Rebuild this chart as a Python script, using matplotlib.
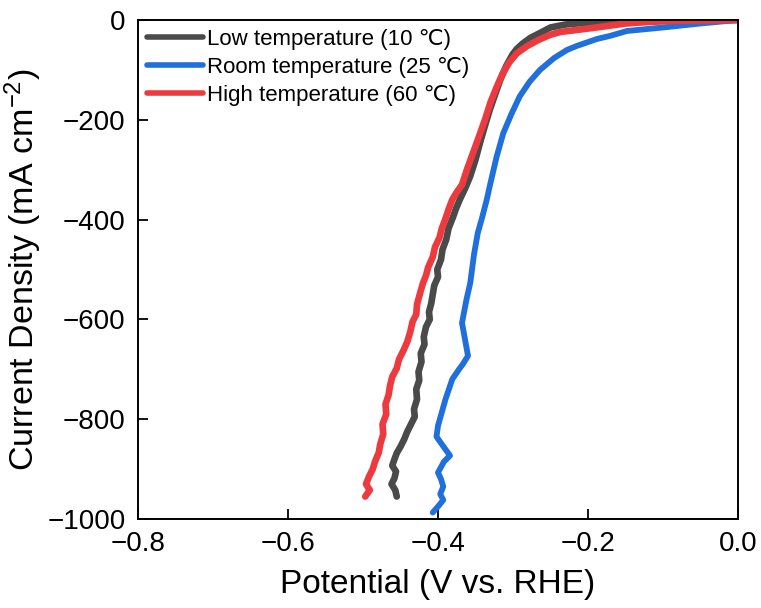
import matplotlib
matplotlib.use("Agg")
import matplotlib.pyplot as plt

plt.rcParams['font.family'] = ['Liberation Sans', 'DejaVu Sans']
plt.rcParams['mathtext.fontset'] = 'custom'
plt.rcParams['mathtext.rm'] = 'Liberation Sans'
plt.rcParams['mathtext.it'] = 'Liberation Sans'

labels = ["Low temperature (10 \u2103)", "Room temperature (25 \u2103)", "High temperature (60 \u2103)"]
colors = ["#4a4a4a", "#1f6fdc", "#ec3a3e"]

V_low = [0.0, -0.05, -0.10, -0.15, -0.20, -0.23, -0.25, -0.264, -0.277, -0.287, -0.295, -0.301,
         -0.309, -0.317, -0.324, -0.331, -0.338, -0.344, -0.350, -0.357, -0.364, -0.371,
         -0.376, -0.380, -0.386, -0.389, -0.394, -0.396, -0.401, -0.400, -0.405, -0.407, -0.409,
         -0.412, -0.411, -0.416, -0.419, -0.418, -0.423, -0.422, -0.426, -0.425, -0.429, -0.428,
         -0.432, -0.431, -0.436, -0.441, -0.445, -0.450, -0.455, -0.458, -0.461, -0.456, -0.458,
         -0.462, -0.457, -0.455]
J_low = [0, -0.5, -1, -2, -5, -9, -15, -26, -36, -47, -58, -70, -92, -120, -150, -180, -215, -246,
         -280, -313, -338, -360, -378, -395, -418, -440, -460, -480, -500, -515, -532, -550, -568,
         -585, -600, -615, -635, -650, -668, -685, -705, -722, -740, -760, -780, -795, -810, -825,
         -840, -855, -868, -880, -893, -905, -918, -930, -942, -955]

V_room = [0.0, -0.05, -0.10, -0.148, -0.171, -0.188, -0.215, -0.228, -0.245, -0.264, -0.278, -0.291,
          -0.302, -0.313, -0.322, -0.331, -0.335, -0.341, -0.347, -0.352, -0.357, -0.362, -0.368,
          -0.364, -0.360, -0.367, -0.372, -0.381, -0.390, -0.400, -0.402, -0.395, -0.384, -0.392,
          -0.400, -0.396, -0.393, -0.397, -0.393, -0.400, -0.407]
J_room = [0, -7, -15, -22, -32, -38, -52, -60, -76, -100, -124, -153, -188, -227, -275, -333, -360,
          -395, -427, -470, -527, -560, -607, -640, -673, -690, -700, -720, -760, -813, -835, -850,
          -873, -885, -907, -920, -935, -950, -962, -975, -987]

V_high = [0.0, -0.03, -0.06, -0.09, -0.12, -0.15, -0.184, -0.21, -0.237, -0.251, -0.266, -0.281,
          -0.295, -0.305, -0.314, -0.322, -0.330, -0.337, -0.345, -0.353, -0.361, -0.368, -0.375,
          -0.381, -0.386, -0.390, -0.395, -0.398, -0.404, -0.407, -0.413, -0.416, -0.420, -0.424,
          -0.428, -0.429, -0.434, -0.437, -0.441, -0.446, -0.452, -0.455, -0.461, -0.464, -0.466,
          -0.470, -0.469, -0.474, -0.473, -0.477, -0.479, -0.484, -0.487, -0.492, -0.496, -0.491,
          -0.497]
J_high = [0, -0.5, -1, -2, -4, -7, -14, -19, -24, -30, -40, -52, -67, -85, -108, -135, -165, -198,
          -232, -265, -298, -330, -345, -360, -380, -398, -418, -436, -455, -475, -495, -512, -527,
          -548, -570, -590, -605, -625, -645, -662, -680, -698, -715, -733, -752, -770, -790, -810,
          -830, -850, -867, -885, -900, -915, -930, -942, -955]

x_ticks = [-0.8, -0.6, -0.4, -0.2, 0.0]
x_ticklabels = ["\u22120.8", "\u22120.6", "\u22120.4", "\u22120.2", "0.0"]
y_ticks = [0, -200, -400, -600, -800, -1000]
y_ticklabels = ["0", "\u2212200", "\u2212400", "\u2212600", "\u2212800", "\u22121000"]

fig = plt.figure(figsize=(7.61, 6.08), dpi=100)
ax = fig.add_axes([138/761, 1 - 519/608, 600/761, 499/608])

series = [(V_low, J_low), (V_room, J_room), (V_high, J_high)]
widths = [4.8, 4.2, 4.8]
for (v, j), c, lab, w in zip(series, colors, labels, widths):
    ax.plot(v, j, color=c, lw=w, label=lab, solid_capstyle='round', solid_joinstyle='round')

ax.set_xlim(-0.8, 0.0)
ax.set_ylim(-1000, 0)
ax.set_xticks(x_ticks)
ax.set_xticklabels(x_ticklabels)
ax.set_yticks(y_ticks)
ax.set_yticklabels(y_ticklabels)
ax.tick_params(direction='in', length=7, width=1.3, labelsize=20)
ax.tick_params(axis='x', pad=8.5)
ax.tick_params(axis='y', pad=9)
for s in ax.spines.values():
    s.set_linewidth(1.4)

ax.set_xlabel("Potential (V vs. RHE)", fontsize=24, labelpad=9)
ax.set_ylabel("Current Density (mA cm$^{-2}$)", fontsize=24.5, labelpad=2)

leg = ax.legend(loc='upper left', bbox_to_anchor=(0.015, 0.982), frameon=False, fontsize=16,
                handlelength=2.5, handletextpad=0.2, labelspacing=0.32, borderpad=0,
                borderaxespad=0)
for line in leg.get_lines():
    line.set_linewidth(4)

fig.savefig("out.png", dpi=100)
